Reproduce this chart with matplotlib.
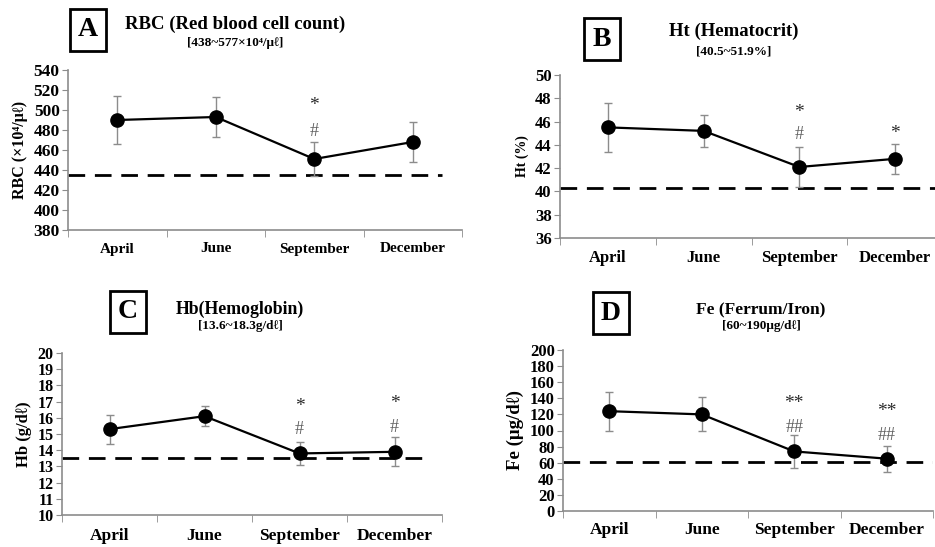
import matplotlib.pyplot as plt
from matplotlib.ticker import FixedLocator, NullFormatter

plt.rcParams['font.family'] = ['Liberation Serif', 'DejaVu Serif']
plt.rcParams['font.weight'] = 'bold'

months = ["April", "June", "September", "December"]

# A: RBC
rbc_mean = [490, 493, 451, 468]
rbc_err = [24, 20, 17, 20]
rbc_ref = 435
rbc_marks = [("", ""), ("", ""), ("*", "#"), ("", "")]

# B: Ht
ht_mean = [45.5, 45.2, 42.1, 42.8]
ht_err = [2.1, 1.4, 1.7, 1.3]
ht_ref = 40.3
ht_marks = [("", ""), ("", ""), ("*", "#"), ("*", "")]

# C: Hb
hb_mean = [15.3, 16.1, 13.8, 13.9]
hb_err = [0.9, 0.6, 0.7, 0.9]
hb_ref = 13.5
hb_marks = [("", ""), ("", ""), ("*", "#"), ("*", "#")]

# D: Fe
fe_mean = [124, 120, 74, 65]
fe_err = [24, 21, 20, 16]
fe_ref = 61
fe_marks = [("", ""), ("", ""), ("**", "##"), ("**", "##")]

fig = plt.figure(figsize=(9.35, 5.47), dpi=100)


def panel(rect, mean, err, ref, ylim, step, ylabel, marks, star_y, hash_y,
          ref_end=1.0, tick_fs=11, cat_fs=11, ylab_fs=11, xlab_pad=10):
    ax = fig.add_axes(rect)
    x = range(len(months))
    ax.errorbar(x, mean, yerr=err, fmt='none', ecolor='#8c8c8c', elinewidth=1,
                capsize=3, capthick=1, zorder=2)
    ax.plot(x, mean, color='black', lw=1.6, marker='o', ms=9.5, zorder=3)
    ax.axhline(ref, xmin=0, xmax=ref_end, color='black', lw=2, dashes=(6, 3.5), zorder=1)
    for i, (s, h) in enumerate(marks):
        if s:
            ax.text(i, star_y[i], s, ha='center', va='center', fontsize=14,
                    color='#2a2a2a', fontweight='normal')
        if h:
            ax.text(i, hash_y[i], h, ha='center', va='center', fontsize=13,
                    color='#606060', fontweight='normal')
    ax.set_xlim(-0.5, 3.5)
    ax.set_ylim(*ylim)
    yt = [ylim[0] + k * step for k in range(int(round((ylim[1] - ylim[0]) / step)) + 1)]
    ax.set_yticks(yt)
    ax.set_yticklabels([f"{v:g}" for v in yt], fontsize=tick_fs, fontweight='bold')
    ax.set_xticks(list(x))
    ax.set_xticklabels(months, fontsize=cat_fs, fontweight='bold')
    ax.tick_params(axis='x', which='major', length=0, pad=xlab_pad)
    ax.xaxis.set_minor_locator(FixedLocator([-0.5, 0.5, 1.5, 2.5, 3.5]))
    ax.xaxis.set_minor_formatter(NullFormatter())
    ax.tick_params(axis='x', which='minor', length=5, color='#8c8c8c', direction='out')
    ax.tick_params(axis='y', length=4, color='#8c8c8c', pad=2)
    for s in ['top', 'right']:
        ax.spines[s].set_visible(False)
    for s in ['left', 'bottom']:
        ax.spines[s].set_color('#8c8c8c')
        ax.spines[s].set_linewidth(1.2)
    ax.set_ylabel(ylabel, fontsize=ylab_fs, fontweight='bold', labelpad=4)
    return ax


def header(letter, bx, by, title, sub, tx, ty, sy, title_fs=13.5):
    fig.text(bx, by, letter, fontsize=20, fontweight='bold', ha='center', va='center',
             bbox=dict(boxstyle='square,pad=0.3', fc='white', ec='black', lw=2))
    fig.text(tx, ty, title, fontsize=title_fs, fontweight='bold', ha='center', va='center')
    fig.text(tx, sy, sub, fontsize=9.5, fontweight='bold', ha='center', va='center')


W, H = 935, 547


def rect(l, r, t, b):
    return [l / W, 1 - b / H, (r - l) / W, (b - t) / H]


panel(rect(68, 462, 70, 230), rbc_mean, rbc_err, rbc_ref, (380, 540), 20,
      "RBC (×10⁴/μℓ)", rbc_marks, [0, 0, 504, 0], [0, 0, 479, 0], ref_end=0.95,
      tick_fs=12.5, cat_fs=11, ylab_fs=11.5, xlab_pad=9)
panel(rect(560, 943, 75, 238), ht_mean, ht_err, ht_ref, (36, 50), 2,
      "Ht (%)", ht_marks, [0, 0, 46.8, 45.0], [0, 0, 44.85, 0],
      tick_fs=12, cat_fs=12, ylab_fs=10, xlab_pad=9)
panel(rect(62, 442, 353, 515), hb_mean, hb_err, hb_ref, (10, 20), 1,
      "Hb (g/dℓ)", hb_marks, [0, 0, 16.7, 16.9], [0, 0, 15.25, 15.4], ref_end=0.97,
      tick_fs=11.5, cat_fs=12.5, ylab_fs=12, xlab_pad=9)
panel(rect(563, 933, 350, 511), fe_mean, fe_err, fe_ref, (0, 200), 20,
      "Fe (μg/dℓ)", fe_marks, [0, 0, 134, 123], [0, 0, 104, 94],
      tick_fs=12, cat_fs=12.5, ylab_fs=13.5, xlab_pad=8)

header("A", 88 / W, 1 - 30 / H, "RBC (Red blood cell count)", "[438~577×10⁴/μℓ]",
       235 / W, 1 - 24 / H, 1 - 43 / H)
header("B", 602 / W, 1 - 39 / H, "Ht (Hematocrit)", "[40.5~51.9%]",
       734 / W, 1 - 31 / H, 1 - 51 / H)
header("C", 128 / W, 1 - 312 / H, "Hb(Hemoglobin)", "[13.6~18.3g/dℓ]",
       240 / W, 1 - 309 / H, 1 - 326 / H, title_fs=12.8)
header("D", 611 / W, 1 - 313 / H, "Fe (Ferrum/Iron)", "[60~190μg/dℓ]",
       761 / W, 1 - 310 / H, 1 - 326 / H, title_fs=12.5)

fig.savefig("out.png", dpi=100)
